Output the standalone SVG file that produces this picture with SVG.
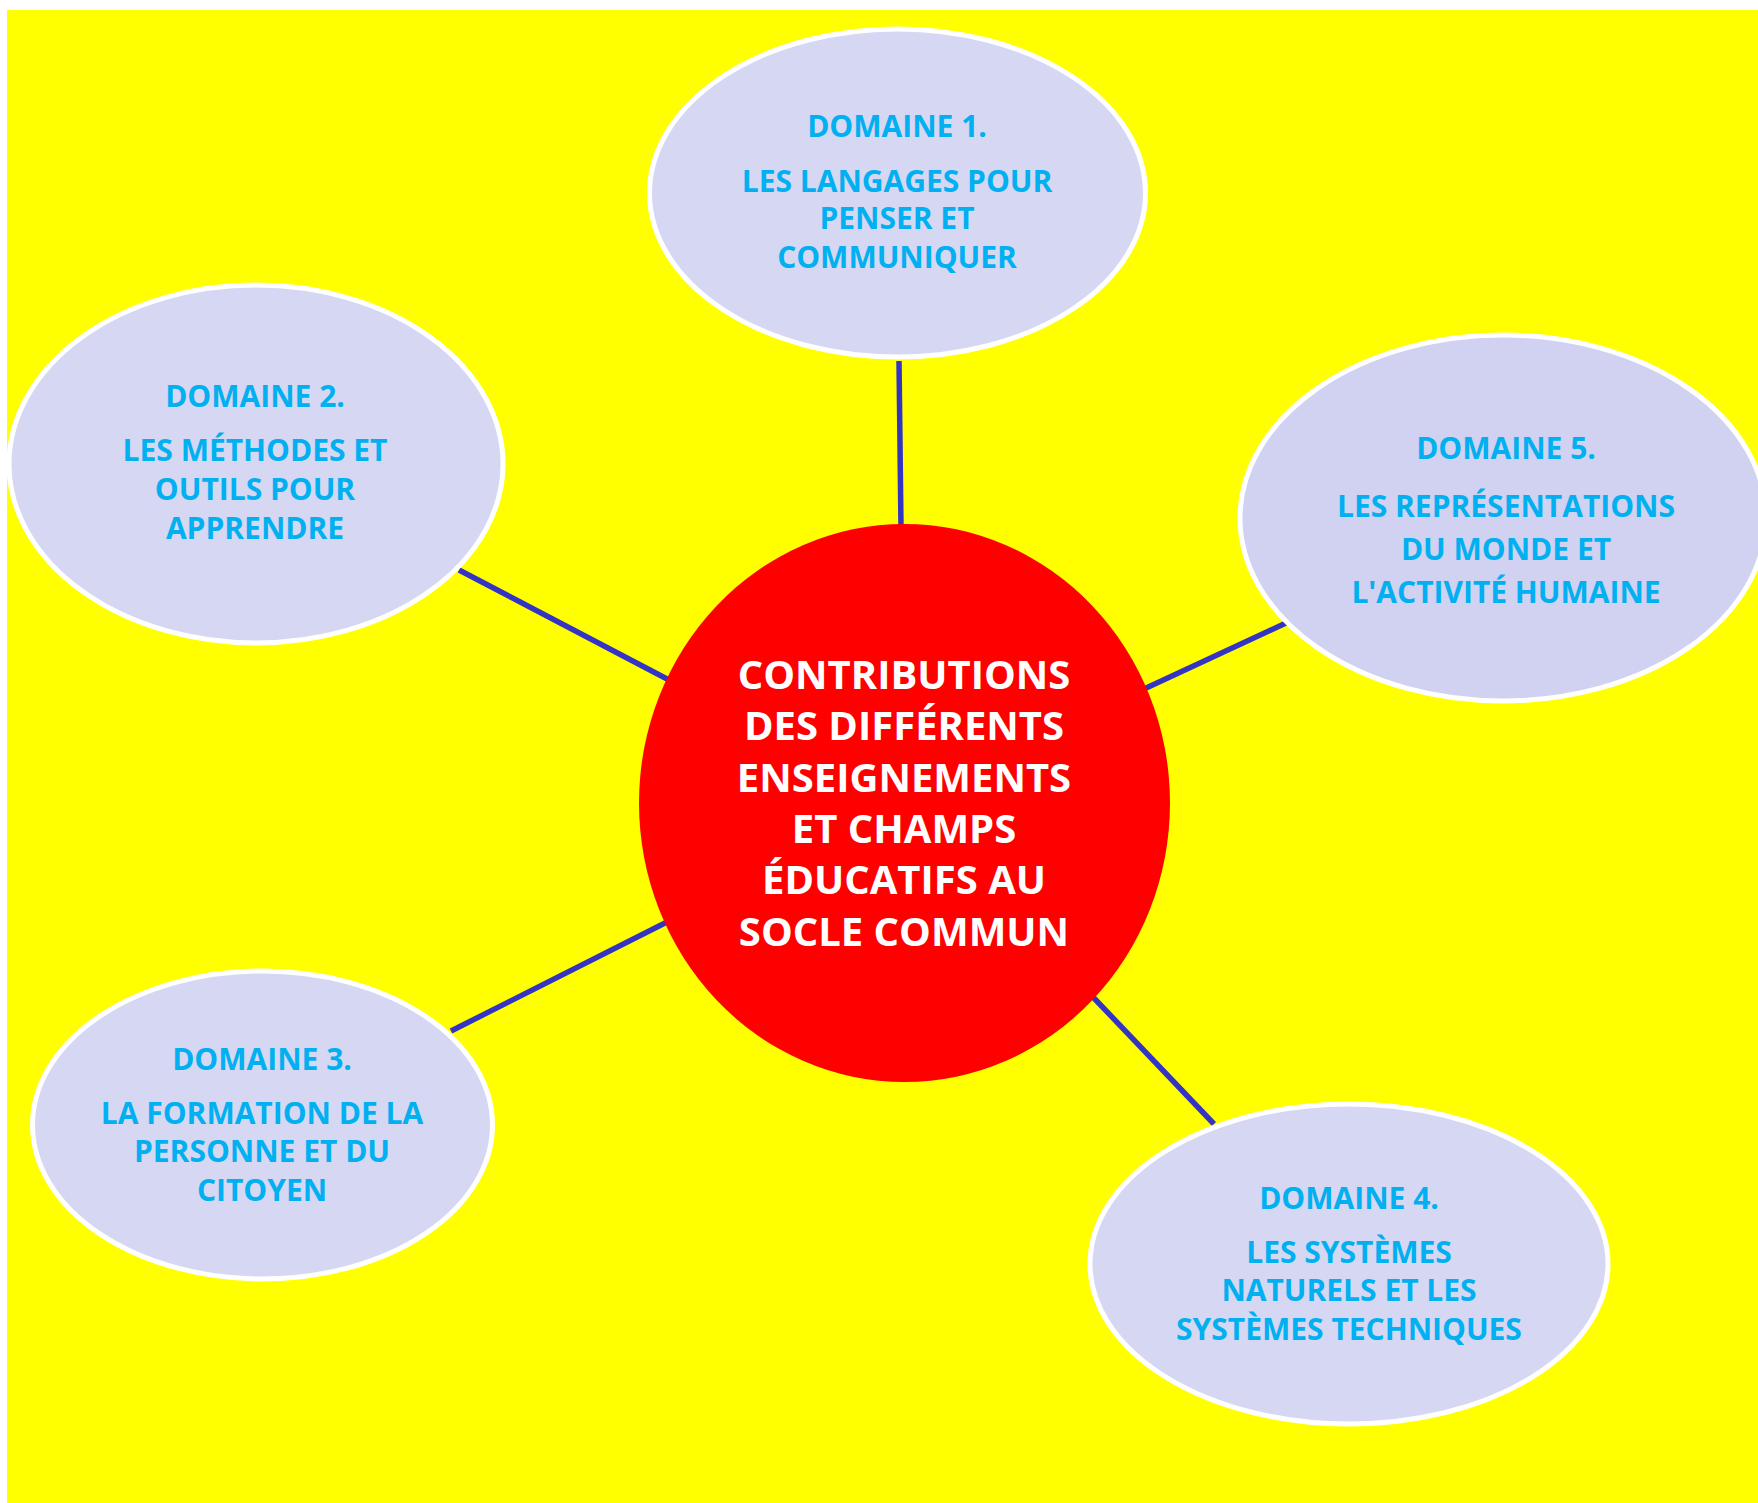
<svg xmlns="http://www.w3.org/2000/svg" width="1758" height="1503" viewBox="0 0 1758 1503">
  <style>
    .node { fill: #D6D7F3; stroke: #FFFFFF; stroke-width: 5; }
    .lbl { font-family: "Open Sans", "Liberation Sans", sans-serif; font-weight: bold; font-size: 30px; fill: #00B0F0; text-anchor: middle; }
    .center-lbl { font-family: "Open Sans", "Liberation Sans", sans-serif; font-weight: bold; font-size: 40px; fill: #FFFFFF; text-anchor: middle; }
    .conn { stroke: #3333C4; stroke-width: 5.5; fill: none; }
  </style>
  <rect x="0" y="0" width="1758" height="1503" fill="#FFFFFF"/>
  <rect x="7" y="10" width="1751" height="1493" fill="#FFFF00"/>

  <g id="connectors">
    <line class="conn" x1="899" y1="361" x2="901" y2="527"/>
    <line class="conn" x1="459" y1="570" x2="669" y2="680"/>
    <line class="conn" x1="1286" y1="623" x2="1144" y2="689"/>
    <line class="conn" x1="451" y1="1031" x2="667" y2="922"/>
    <line class="conn" x1="1092" y1="996" x2="1214" y2="1124"/>
  </g>

  <g id="center">
    <ellipse cx="904.5" cy="803" rx="265.5" ry="279" fill="#FF0000"/>
    <text class="center-lbl" x="904" y="689">CONTRIBUTIONS</text>
    <text class="center-lbl" x="904" y="740">DES DIFFÉRENTS</text>
    <text class="center-lbl" x="904" y="792">ENSEIGNEMENTS</text>
    <text class="center-lbl" x="904" y="843">ET CHAMPS</text>
    <text class="center-lbl" x="904" y="894">ÉDUCATIFS AU</text>
    <text class="center-lbl" x="904" y="946">SOCLE COMMUN</text>
  </g>

  <g id="domaine1">
    <ellipse class="node" cx="897.5" cy="193" rx="248" ry="164"/>
    <text class="lbl" x="897" y="137">DOMAINE 1.</text>
    <text class="lbl" x="897" y="192">LES LANGAGES POUR</text>
    <text class="lbl" x="897" y="229">PENSER ET</text>
    <text class="lbl" x="897" y="268">COMMUNIQUER</text>
  </g>

  <g id="domaine2">
    <ellipse class="node" cx="256" cy="464" rx="247" ry="179"/>
    <text class="lbl" x="255" y="407">DOMAINE 2.</text>
    <text class="lbl" x="255" y="461">LES MÉTHODES ET</text>
    <text class="lbl" x="255" y="500">OUTILS POUR</text>
    <text class="lbl" x="255" y="539">APPRENDRE</text>
  </g>

  <g id="domaine5">
    <ellipse class="node" cx="1503" cy="518" rx="263" ry="183" style="fill:#D1D1F1"/>
    <text class="lbl" x="1506" y="459">DOMAINE 5.</text>
    <text class="lbl" x="1506" y="517">LES REPRÉSENTATIONS</text>
    <text class="lbl" x="1506" y="560">DU MONDE ET</text>
    <text class="lbl" x="1506" y="603">L'ACTIVITÉ HUMAINE</text>
  </g>

  <g id="domaine3">
    <ellipse class="node" cx="262.5" cy="1125" rx="230" ry="154"/>
    <text class="lbl" x="262" y="1070">DOMAINE 3.</text>
    <text class="lbl" x="262" y="1124">LA FORMATION DE LA</text>
    <text class="lbl" x="262" y="1162">PERSONNE ET DU</text>
    <text class="lbl" x="262" y="1201">CITOYEN</text>
  </g>

  <g id="domaine4">
    <ellipse class="node" cx="1349" cy="1264" rx="259" ry="160"/>
    <text class="lbl" x="1349" y="1209">DOMAINE 4.</text>
    <text class="lbl" x="1349" y="1263">LES SYSTÈMES</text>
    <text class="lbl" x="1349" y="1301">NATURELS ET LES</text>
    <text class="lbl" x="1349" y="1340">SYSTÈMES TECHNIQUES</text>
  </g>
</svg>
